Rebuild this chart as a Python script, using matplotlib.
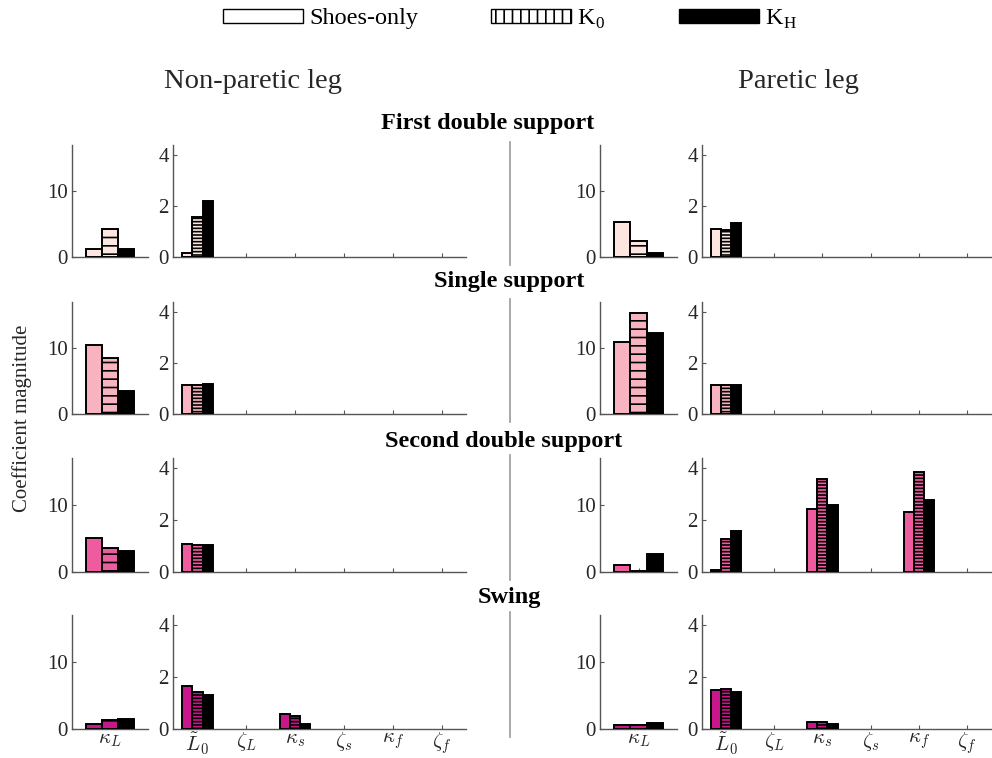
import numpy as np
import matplotlib
matplotlib.use("Agg")
import matplotlib.pyplot as plt
from matplotlib.patches import Patch
from matplotlib.lines import Line2D

plt.rcParams["font.family"] = "serif"
plt.rcParams["font.serif"] = ["Liberation Serif", "DejaVu Serif"]
plt.rcParams["mathtext.fontset"] = "cm"
plt.rcParams["hatch.linewidth"] = 1.2

# =========================
# data
# =========================
phases = ["First double support", "Single support", "Second double support", "Swing"]
params = [r"$\tilde{L}_0$", r"$\zeta_L$", r"$\kappa_s$", r"$\zeta_s$", r"$\kappa_f$", r"$\zeta_f$"]
conditions = ["Shoes-only", r"K$_\mathregular{0}$", r"K$_\mathregular{H}$"]
phase_colors = ["#fde6df", "#f8b3c0", "#ee5c9f", "#c8178b"]

# kappa_L, rows = phases, cols = Shoes-only, K0, KH
kl_nonparetic = [[1.2, 4.3, 1.2],
                 [10.4, 8.5, 3.5],
                 [5.0, 3.6, 3.1],
                 [0.75, 1.35, 1.5]]
kl_paretic = [[5.3, 2.4, 0.55],
              [11.0, 15.3, 12.3],
              [1.0, 0.2, 2.75],
              [0.6, 0.6, 0.85]]

# other coefficients, rows = phases, cols = params
shoes_nonparetic = [[0.15, 0, 0, 0, 0, 0],
                    [1.12, 0, 0, 0, 0, 0],
                    [1.07, 0, 0, 0, 0, 0],
                    [1.65, 0, 0.57, 0, 0, 0]]
k0_nonparetic = [[1.56, 0, 0, 0, 0, 0],
                 [1.12, 0, 0, 0, 0, 0],
                 [1.06, 0, 0, 0, 0, 0],
                 [1.43, 0, 0.52, 0, 0, 0]]
kh_nonparetic = [[2.2, 0, 0, 0, 0, 0],
                 [1.18, 0, 0, 0, 0, 0],
                 [1.05, 0, 0, 0, 0, 0],
                 [1.33, 0, 0.18, 0, 0, 0]]

shoes_paretic = [[1.1, 0, 0, 0, 0, 0],
                 [1.12, 0, 0, 0, 0, 0],
                 [0.07, 0, 2.44, 0, 2.32, 0],
                 [1.52, 0, 0.26, 0, 0, 0]]
k0_paretic = [[1.08, 0, 0, 0, 0, 0],
              [1.12, 0, 0, 0, 0, 0],
              [1.28, 0, 3.58, 0, 3.87, 0],
              [1.55, 0, 0.26, 0, 0, 0]]
kh_paretic = [[1.35, 0, 0, 0, 0, 0],
              [1.15, 0, 0, 0, 0, 0],
              [1.6, 0, 2.58, 0, 2.77, 0],
              [1.42, 0, 0.18, 0, 0, 0]]

legs = {
    "Non-paretic leg": (kl_nonparetic, [shoes_nonparetic, k0_nonparetic, kh_nonparetic]),
    "Paretic leg": (kl_paretic, [shoes_paretic, k0_paretic, kh_paretic]),
}

# =========================
# layout (figure pixels)
# =========================
W, H = 992, 758
fig = plt.figure(figsize=(W / 100, H / 100), dpi=100)

row_px = [(145, 257), (302, 414), (458, 572), (615, 729)]
col_px = {"Non-paretic leg": [(72, 148), (173, 466)],
          "Paretic leg": [(600, 677), (702, 991)]}
spine_c = "#555555"
text_c = "#262626"
bw = 0.21
offsets = [-bw, 0, bw]


def px_axes(x0, x1, y0, y1):
    return fig.add_axes([x0 / W, 1 - y1 / H, (x1 - x0) / W, (y1 - y0) / H])


def style(ax):
    for s in ["top", "right"]:
        ax.spines[s].set_visible(False)
    for s in ["left", "bottom"]:
        ax.spines[s].set_color(spine_c)
        ax.spines[s].set_linewidth(1.0)
    ax.tick_params(direction="in", length=3, color=spine_c, labelcolor=text_c,
                   labelsize=15, pad=3)
    ax.tick_params(axis="x", labelsize=15, pad=1)


def draw_bars(ax, xs, vals_by_cond, color, k0_hatch):
    for j, vals in enumerate(vals_by_cond):
        vals = np.asarray(vals, dtype=float)
        m = vals > 0
        if not m.any():
            continue
        if j == 0:
            fc, hatch = color, None
        elif j == 1:
            fc, hatch = color, k0_hatch
        else:
            fc, hatch = "black", None
        ax.bar(np.asarray(xs)[m] + offsets[j], vals[m], width=bw, color=fc,
               edgecolor="black", linewidth=1.4, hatch=hatch, zorder=3)


for leg, (kl, others) in legs.items():
    (a0, a1), (b0, b1) = col_px[leg]
    for i, (y0, y1) in enumerate(row_px):
        color = phase_colors[i]
        last = i == len(row_px) - 1

        ax1 = px_axes(a0, a1, y0, y1)
        style(ax1)
        draw_bars(ax1, [1], [[v] for v in kl[i]], color, "--")
        ax1.set_xlim(0.5, 1.5)
        ax1.set_ylim(0, 17)
        ax1.set_yticks([0, 10])
        ax1.set_xticks([1])
        ax1.set_xticklabels([r"$\kappa_L$"] if last else [""])

        ax2 = px_axes(b0, b1, y0, y1)
        style(ax2)
        xs = np.arange(1, len(params) + 1)
        draw_bars(ax2, xs, [o[i] for o in others], color, "-----")
        ax2.set_xlim(0.5, len(params) + 0.5)
        ax2.set_ylim(0, 4.4)
        ax2.set_yticks([0, 2, 4])
        ax2.set_xticks(xs)
        ax2.set_xticklabels(params if last else [""] * len(params))

# divider lines between the legs
for (y0, y1) in row_px:
    fig.add_artist(Line2D([510 / W, 510 / W], [1 - (y0 - 3) / H, 1 - (y1 + 8) / H],
                          color="#999999", linewidth=1.2))

# titles
title_x = [488, 509, 504, 509]
title_y = [123, 282, 442, 598]
for name, tx, ty in zip(phases, title_x, title_y):
    fig.text(tx / W, 1 - ty / H, name, ha="center", va="center",
             fontsize=17.5, fontweight="bold", color="black")

fig.text(253 / W, 1 - 82 / H, "Non-paretic leg", ha="center", va="center",
         fontsize=20.5, color=text_c)
fig.text(798 / W, 1 - 82 / H, "Paretic leg", ha="center", va="center",
         fontsize=20.5, color=text_c)
fig.text(22 / W, 1 - 418 / H, "Coefficient magnitude", ha="center", va="center",
         rotation=90, fontsize=15, color=text_c)

# legend
handles = [Patch(facecolor="white", edgecolor="black", linewidth=1.0),
           Patch(facecolor="white", edgecolor="black", linewidth=1.0, hatch="||"),
           Patch(facecolor="black", edgecolor="black", linewidth=1.0)]
fig.legend(handles, conditions, loc="center", bbox_to_anchor=(510 / W, 1 - 19 / H),
           ncol=3, frameon=False, fontsize=17.5, handlelength=3.3, handleheight=0.5,
           handletextpad=0.25, columnspacing=3.0)

fig.savefig("out.png", dpi=100)
